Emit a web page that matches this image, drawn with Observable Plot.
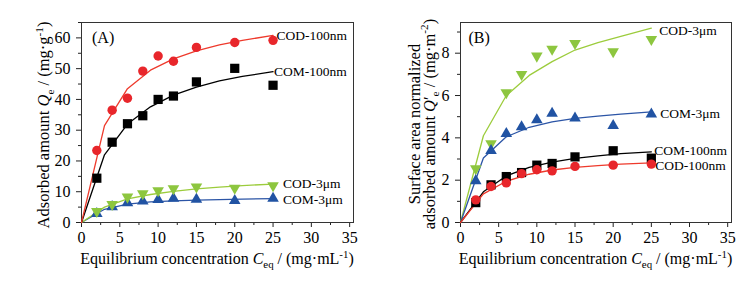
<!DOCTYPE html>
<html><head><meta charset="utf-8">
<script src="https://cdn.jsdelivr.net/npm/d3@7"></script>
<script src="https://cdn.jsdelivr.net/npm/@observablehq/plot@0.6"></script>
<style>
body{margin:0;background:#fff;}
#wrap{display:flex;width:756px;height:294px;background:#fff;}
#wrap svg{display:block;}
</style></head><body><div id="wrap"></div>
<script>
// ---- data ----
const xs = [2, 4, 6, 8, 10, 12, 15, 20, 25];
const fitX = [0, 3, 6, 9, 12, 15, 18, 21, 25];

// Panel A: adsorbed amount (mg/g)
const codNmA = [23.4, 36.5, 40.4, 49.2, 54.1, 52.4, 56.9, 58.5, 59.2];
const comNmA = [14.4, 26.1, 32.1, 34.7, 40.0, 41.1, 45.7, 50.1, 44.6];
const cod3A  = [3.6, 5.9, 8.3, 9.4, 10.4, 11.0, 11.6, 11.2, 12.0];
const com3A  = [2.9, 5.1, 6.4, 6.9, 7.4, 7.8, 7.5, 7.1, 7.8];
const com3AErr = [0.9, 0.9, 0.8, 0.9, 0.9, 0.9, 0.8, 0.8, 0.8];
const fitCodNmA = [0, 31.5, 43.5, 49.5, 53.2, 55.8, 57.7, 59.2, 60.8];
const fitComNmA = [0, 22.0, 32.0, 37.6, 41.4, 44.0, 46.0, 47.5, 49.0];
const fitCod3A  = [0, 5.0, 7.7, 9.1, 10.1, 10.9, 11.5, 12.0, 12.5];
const fitCom3A  = [0, 4.3, 6.0, 6.7, 7.05, 7.3, 7.45, 7.6, 7.75];

// Panel B: surface area normalized (mg/m2)
const cod3B  = [2.55, 3.73, 6.14, 7.0, 7.87, 8.19, 8.47, 8.08, 8.66];
const com3B  = [1.97, 3.39, 4.2, 4.52, 4.85, 5.15, 4.93, 4.57, 5.12];
const comNmB = [0.94, 1.78, 2.17, 2.36, 2.71, 2.79, 3.1, 3.39, 3.04];
const codNmB = [1.07, 1.70, 1.87, 2.31, 2.49, 2.44, 2.65, 2.71, 2.76];
const fitCod3B  = [0, 4.1, 6.0, 6.95, 7.6, 8.15, 8.5, 8.8, 9.18];
const fitCom3B  = [0, 3.05, 4.05, 4.5, 4.75, 4.92, 5.03, 5.12, 5.23];
const fitComNmB = [0, 1.45, 2.2, 2.6, 2.85, 3.03, 3.15, 3.25, 3.34];
const fitCodNmB = [0, 1.35, 1.95, 2.28, 2.48, 2.6, 2.69, 2.76, 2.82];

const xTicks = [0, 5, 10, 15, 20, 25, 30, 35];
const xMinor = [2.5, 7.5, 12.5, 17.5, 22.5, 27.5, 32.5];
const yTicksA = [0, 10, 20, 30, 40, 50, 60];
const yMinorA = [5, 15, 25, 35, 45, 55, 65];
const yTicksB = [0, 2, 4, 6, 8];
const yMinorB = [1, 3, 5, 7, 9];

const names = {codNm: "COD-100nm", comNm: "COM-100nm", cod3: "COD-3μm", com3: "COM-3μm"};

// ---- styles ----
const RED = "#e8262b", BLACK = "#000000", GREEN = "#8dc63f", BLUE = "#2153a3";
const GREEN_LINE = "#9ccc3c", BLUE_LINE = "#2c55a6", RED_LINE = "#ee3a2c";
const FONT = "Liberation Serif";
const TICK_FONT = 16;

const pts = (ys) => xs.map((x, i) => ({x, y: ys[i]}));
const fit = (ys) => fitX.map((x, i) => ({x, y: ys[i]}));

function axes(yT, yM) {
  return [
    Plot.axisX({ticks: xTicks, tickSize: 5, tickPadding: 4.5, label: null, stroke: "#222", fontSize: TICK_FONT}),
    Plot.axisX({ticks: xMinor, tickSize: 3, tickFormat: () => "", label: null, stroke: "#222"}),
    Plot.axisY({ticks: yT, tickSize: 5, tickPadding: 6, label: null, stroke: "#222", fontSize: TICK_FONT}),
    Plot.axisY({ticks: yM, tickSize: 3, tickFormat: () => "", label: null, stroke: "#222"}),
    Plot.frame({stroke: "#333", strokeWidth: 1})
  ];
}

function label(series, text, dx, dy) {
  const last = series[series.length - 1];
  return Plot.text([{x: fitX[fitX.length - 1], y: last}], {
    x: "x", y: "y", text: () => text, textAnchor: "start", dx, dy,
    fill: "#000", fontSize: 13.5, fontFamily: FONT
  });
}

function line(ys, color) {
  return Plot.line(fit(ys), {x: "x", y: "y", stroke: color, strokeWidth: 1.3});
}

const common = {
  width: 378, height: 294, marginTop: 22, marginBottom: 72,
  x: {domain: [0, 35.5]},
  style: {fontFamily: FONT, fontSize: "15px", background: "#fff", color: "#000"}
};

const plotA = Plot.plot({
  ...common, marginLeft: 81, marginRight: 25,
  y: {domain: [0, 65]},
  marks: [
    ...axes(yTicksA, yMinorA),
    line(fitCom3A, BLUE_LINE),
    line(fitCod3A, GREEN_LINE),
    line(fitComNmA, BLACK),
    line(fitCodNmA, RED_LINE),
    Plot.ruleX(pts(com3A), {x: "x", y1: (d, i) => d.y - com3AErr[i], y2: (d, i) => d.y + com3AErr[i], stroke: BLUE, strokeWidth: 1.2}),
    Plot.dot(pts(com3A), {x: "x", y: "y", symbol: "triangle", r: 4.3, fill: BLUE, stroke: "none"}),
    Plot.dot(pts(cod3A), {x: "x", y: "y", symbol: "triangle", rotate: 180, r: 4.3, fill: GREEN, stroke: "none"}),
    Plot.dot(pts(comNmA), {x: "x", y: "y", symbol: "square", r: 5.2, fill: BLACK, stroke: "none"}),
    Plot.dot(pts(codNmA), {x: "x", y: "y", symbol: "circle", r: 4.7, fill: RED, stroke: "none"}),
    label(fitCodNmA, names.codNm, 3.5, 0),
    label(fitComNmA, names.comNm, 1, 0),
    label(fitCod3A, names.cod3, 10, 0),
    label(fitCom3A, names.com3, 10, 1)
  ]
});

const plotB = Plot.plot({
  ...common, marginLeft: 82, marginRight: 25,
  y: {domain: [0, 9.45]},
  marks: [
    ...axes(yTicksB, yMinorB),
    line(fitCod3B, GREEN_LINE),
    line(fitCom3B, BLUE_LINE),
    line(fitComNmB, BLACK),
    line(fitCodNmB, RED_LINE),
    Plot.dot(pts(cod3B), {x: "x", y: "y", symbol: "triangle", rotate: 180, r: 4.3, fill: GREEN, stroke: "none"}),
    Plot.dot(pts(com3B), {x: "x", y: "y", symbol: "triangle", r: 4.3, fill: BLUE, stroke: "none"}),
    Plot.dot(pts(comNmB), {x: "x", y: "y", symbol: "square", r: 5.2, fill: BLACK, stroke: "none"}),
    Plot.dot(pts(codNmB), {x: "x", y: "y", symbol: "circle", r: 4.7, fill: RED, stroke: "none"}),
    label(fitCod3B, names.cod3, 8, 2),
    label(fitCom3B, names.com3, 9, 2),
    label(fitComNmB, names.comNm, 3, -1),
    label(fitCodNmB, names.codNm, 4, 3)
  ]
});

// enforce tick label size
for (const svg of [plotA, plotB]) {
  d3.select(svg).selectAll('g[aria-label="x-axis tick label"], g[aria-label="y-axis tick label"]')
    .attr("font-size", TICK_FONT).style("font-size", TICK_FONT + "px")
    .selectAll("text").style("font-size", TICK_FONT + "px");
}

// ---- rich text labels (italic, sub/superscripts) ----
function rich(svg, x, y, rotate, anchor, size, parts) {
  const t = d3.select(svg).append("text")
    .attr("transform", `translate(${x},${y}) rotate(${rotate})`)
    .attr("text-anchor", anchor)
    .attr("font-family", FONT).attr("font-size", size).attr("fill", "#000");
  let shift = 0;
  for (const p of parts) {
    const s = t.append("tspan").text(p.t);
    let target = 0;
    if (p.sub) { target = size * 0.28; s.attr("font-size", size * 0.68); }
    if (p.sup) { target = -size * 0.38; s.attr("font-size", size * 0.68); }
    if (target !== shift) { s.attr("dy", target - shift); shift = target; }
    if (p.i) s.attr("font-style", "italic");
  }
  return t;
}

function xLabel(svg, cx) {
  rich(svg, cx, 264, 0, "middle", 16, [
    {t: "Equilibrium concentration "}, {t: "C", i: true}, {t: "eq", sub: true},
    {t: " / (mg·mL"}, {t: "-1", sup: true}, {t: ")"}
  ]);
}

xLabel(plotA, (81 + 353) / 2);
xLabel(plotB, (82 + 353) / 2);

rich(plotA, 49, 125, -90, "middle", 16.5, [
  {t: "Adsorbed amount "}, {t: "Q", i: true}, {t: "e", sub: true},
  {t: " / (mg·g"}, {t: "-1", sup: true}, {t: ")"}
]);

rich(plotB, 42, 124, -90, "middle", 16.5, [{t: "Surface area normalized"}]);
rich(plotB, 56.5, 124, -90, "middle", 16.5, [
  {t: "adsorbed amount "}, {t: "Q", i: true}, {t: "′"}, {t: "e", sub: true},
  {t: " / (mg·m"}, {t: "-2", sup: true}, {t: ")"}
]);

rich(plotA, 92, 43, 0, "start", 16, [{t: "(A)"}]);
rich(plotB, 90.5, 43, 0, "start", 16, [{t: "(B)"}]);

document.getElementById("wrap").append(plotA, plotB);
</script></body></html>
